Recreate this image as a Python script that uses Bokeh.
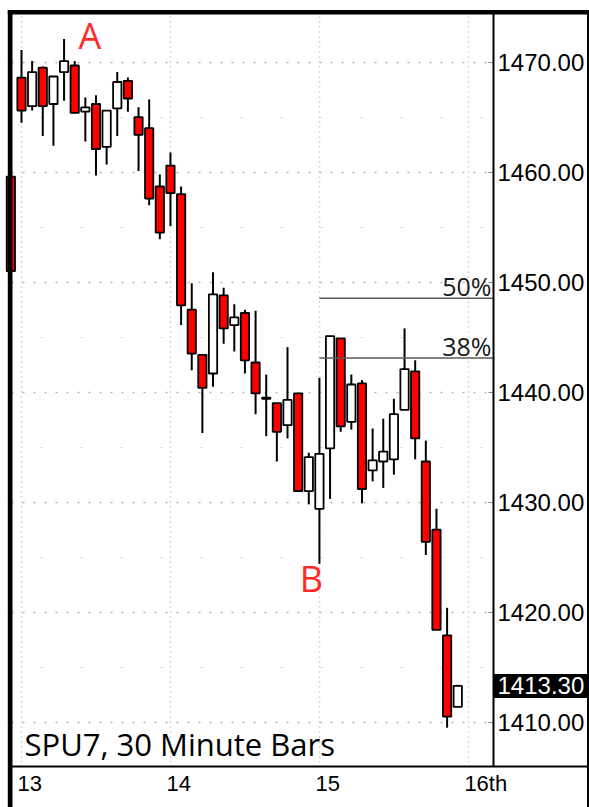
from bokeh.plotting import figure
from bokeh.models import (Range1d, FixedTicker, BoxAnnotation, Label, LinearAxis,
                          ColumnDataSource, NumeralTickFormatter)
from bokeh.embed import file_html
from bokeh.resources import INLINE

# ---------------- data ----------------
bar_index = list(range(-1, 42))   # 30-minute bars; 0 = first bar of the 13th
opens = [1459.6,
         1468.6, 1466.0, 1469.5, 1466.2, 1469.1, 1469.7, 1465.5, 1466.2, 1462.3, 1465.8,
         1468.3, 1465.0, 1464.0, 1458.7,
         1460.6, 1458.0, 1447.5, 1443.4, 1441.7, 1448.8, 1446.1, 1447.2, 1442.7, 1439.5,
         1439.0, 1437.0, 1439.9, 1431.0,
         1429.4, 1434.9, 1444.9, 1437.3, 1440.8, 1432.9, 1433.7, 1433.9, 1438.4, 1441.9,
         1433.7, 1427.5, 1417.9, 1411.4]
highs = [1459.6,
         1471.1, 1470.1, 1469.6, 1468.7, 1472.1, 1470.1, 1466.8, 1467.0, 1465.6, 1469.1,
         1468.6, 1465.9, 1466.6, 1459.8,
         1461.8, 1458.7, 1449.9, 1443.4, 1450.9, 1449.5, 1448.0, 1447.5, 1447.4, 1441.6,
         1439.0, 1444.1, 1439.9, 1434.5,
         1441.3, 1445.1, 1444.9, 1441.6, 1441.1, 1436.7, 1437.6, 1439.4, 1445.8, 1442.9,
         1435.6, 1429.4, 1420.4, 1413.4]
lows = [1451.0,
        1464.5, 1465.6, 1463.3, 1462.4, 1466.5, 1465.4, 1462.8, 1459.7, 1460.7, 1463.3,
        1465.5, 1460.1, 1457.0, 1453.9,
        1455.1, 1446.1, 1442.0, 1436.3, 1440.5, 1444.4, 1443.7, 1441.7, 1438.0, 1436.0,
        1433.7, 1435.8, 1431.0, 1429.8,
        1424.4, 1430.3, 1436.4, 1436.6, 1429.9, 1431.9, 1431.3, 1432.5, 1438.4, 1433.9,
        1425.2, 1418.4, 1409.5, 1411.4]
closes = [1451.0,
          1465.6, 1469.1, 1466.0, 1468.7, 1470.1, 1465.4, 1465.9, 1462.1, 1465.6, 1468.2,
          1466.7, 1463.4, 1457.6, 1454.5,
          1458.1, 1447.9, 1443.5, 1440.4, 1448.9, 1445.8, 1446.8, 1442.9, 1439.9, 1439.4,
          1436.4, 1439.3, 1431.0, 1434.1,
          1434.4, 1445.1, 1436.9, 1440.7, 1431.2, 1433.8, 1434.6, 1438.0, 1442.1, 1435.8,
          1426.4, 1418.4, 1410.5, 1413.3]

day_start_index = [0, 14, 28, 42]
day_labels = ["13", "14", "15", "16th"]
price_ticks = [1410, 1420, 1430, 1440, 1450, 1460, 1470]
half_levels = [1415, 1425, 1435, 1445, 1455, 1465]
fib_levels = [1448.55, 1443.1]
fib_labels = ["50%", "38%"]
fib_start_index = 28          # bar B
title_text = "SPU7, 30 Minute Bars"

# ---------------- geometry (page pixels -> data) ----------------
W, H = 589, 807
PX_PER_BAR = 10.64
PX_PER_PT = 11.0
x_lo = (0 - 21) / PX_PER_BAR
x_hi = x_lo + W / PX_PER_BAR
y_hi = 1470 + 61.7 / PX_PER_PT
y_lo = y_hi - H / PX_PER_PT


def dx(px):
    return x_lo + px / PX_PER_BAR


def dy(py):
    return y_hi - py / PX_PER_PT


RED = "#ff0000"
LABEL_RED = "#ff2b2b"
AXIS_X = 493      # page x of the price axis rule
AXIS_Y = 766      # page y of the date axis rule

p = figure(width=W, height=H,
           x_range=Range1d(x_lo, x_hi), y_range=Range1d(y_lo, y_hi),
           output_backend="svg", toolbar_location=None,
           x_axis_location=None, y_axis_location=None, min_border=0)
p.outline_line_color = None
p.background_fill_color = "white"
p.border_fill_color = "white"

# grids
p.xgrid.ticker = FixedTicker(ticks=day_start_index)
p.xgrid.grid_line_color = "#a9bcae"
p.xgrid.grid_line_dash = "1 4"
p.xgrid.grid_line_width = 1.5
p.ygrid.ticker = FixedTicker(ticks=price_ticks, minor_ticks=half_levels)
p.ygrid.grid_line_color = "#a9bcae"
p.ygrid.grid_line_dash = "2 9"
p.ygrid.grid_line_width = 1.5
p.ygrid.minor_grid_line_color = "#c8d4cc"
p.ygrid.minor_grid_line_dash = "2 38"


def box(l, r, t, b, color, level):
    p.add_layout(BoxAnnotation(left=dx(l), right=dx(r), top=dy(t), bottom=dy(b),
                               fill_color=color, fill_alpha=1.0,
                               line_color=None, level=level))


# white masks over the grid outside the plotting area
box(-5, 7.5, -5, 812, "white", "underlay")
box(-5, 594, -5, 9.5, "white", "underlay")
box(AXIS_X, 594, -5, 812, "white", "underlay")
box(-5, 594, AXIS_Y, 812, "white", "underlay")

# right price axis
ya = LinearAxis(fixed_location=dx(AXIS_X), bounds=(dy(AXIS_Y), dy(9.5)))
ya.ticker = FixedTicker(ticks=price_ticks)
ya.formatter = NumeralTickFormatter(format="0.00")
ya.major_label_text_font = "Liberation Sans"
ya.major_label_text_font_size = "24px"
ya.major_label_text_color = "black"
ya.major_tick_in = 5
ya.major_tick_out = 0
ya.major_tick_line_color = "#888888"
ya.minor_tick_in = 0
ya.minor_tick_out = 0
ya.axis_line_color = None
ya.major_label_standoff = 4
p.add_layout(ya, "right")

# bottom date axis (labels left-aligned on each day start)
lab_font_px = 22
char_w = {"t": 0.278}
label_pos = []
for d, s in zip(day_start_index, day_labels):
    w = sum(char_w.get(c, 0.556) for c in s) * lab_font_px
    label_pos.append(d + (w / 2 - 4) / PX_PER_BAR)
xa = LinearAxis(fixed_location=dy(AXIS_Y), bounds=(dx(7.5), dx(W + 2)))
xa.ticker = FixedTicker(ticks=label_pos)
xa.major_label_overrides = {pos: s for pos, s in zip(label_pos, day_labels)}
xa.major_label_text_font = "Liberation Sans"
xa.major_label_text_font_size = f"{lab_font_px}px"
xa.major_label_text_color = "black"
xa.major_tick_in = 0
xa.major_tick_out = 0
xa.minor_tick_in = 0
xa.minor_tick_out = 0
xa.axis_line_width = 2
xa.axis_line_color = "black"
xa.major_label_standoff = 4
p.add_layout(xa, "below")

# candles
fills = [RED if c < o else "white" for o, c in zip(opens, closes)]
src = ColumnDataSource(dict(
    x=bar_index, high=highs, low=lows,
    top=[max(o, c) for o, c in zip(opens, closes)],
    bottom=[min(o, c) for o, c in zip(opens, closes)],
    fill=fills))
p.segment(x0="x", y0="low", x1="x", y1="high", source=src,
          line_color="black", line_width=2)
p.vbar(x="x", width=0.78, top="top", bottom="bottom", source=src,
       fill_color="fill", line_color="black", line_width=1.8)

# retracement lines
p.segment(x0=[fib_start_index] * len(fib_levels), x1=[dx(AXIS_X)] * len(fib_levels),
          y0=fib_levels, y1=fib_levels, line_color="#5a5a5a", line_width=1.5)
for lev, txt in zip(fib_levels, fib_labels):
    p.add_layout(Label(x=dx(491), y=lev, y_offset=12, text=txt, text_align="right",
                       text_baseline="alphabetic", text_font="Open Sans",
                       text_font_size="25px", text_color="#1a1a1a"))

# A / B markers and title
p.add_layout(Label(x=dx(89.5), y=dy(48), y_offset=13, text="A", text_align="center",
                   text_baseline="alphabetic", text_font="Open Sans",
                   text_font_size="36px", text_color=LABEL_RED))
p.add_layout(Label(x=dx(311), y=dy(592), y_offset=14, text="B", text_align="center",
                   text_baseline="alphabetic", text_font="Open Sans",
                   text_font_size="36px", text_color=LABEL_RED))
p.add_layout(Label(x=dx(24), y=dy(753), y_offset=10, text=title_text, text_align="left",
                   text_baseline="alphabetic", text_font="Open Sans",
                   text_font_size="31px", text_color="black"))

# frame borders and price-axis rule
box(7.3, 12, 9.5, 812, "black", "overlay")      # left thick border
box(7.3, 594, 9.5, 14, "black", "overlay")      # top thick border
box(586.5, 594, 9.5, 812, "black", "overlay")   # right border
box(AXIS_X - 1, AXIS_X + 1, 9.5, AXIS_Y, "black", "overlay")  # price axis rule

# last price box
last = closes[-1]
half_box = 12 / PX_PER_PT
p.add_layout(BoxAnnotation(left=dx(AXIS_X), right=dx(W + 5), top=last + half_box,
                           bottom=last - half_box, fill_color="black",
                           fill_alpha=1.0, line_color=None, level="overlay"))
p.add_layout(Label(x=dx(497), y=last, text=f"{last:.2f}", text_align="left",
                   text_baseline="middle", text_font="Liberation Sans",
                   text_font_size="24px", text_color="white", level="overlay"))

open("out.html", "w").write(file_html(p, INLINE))
